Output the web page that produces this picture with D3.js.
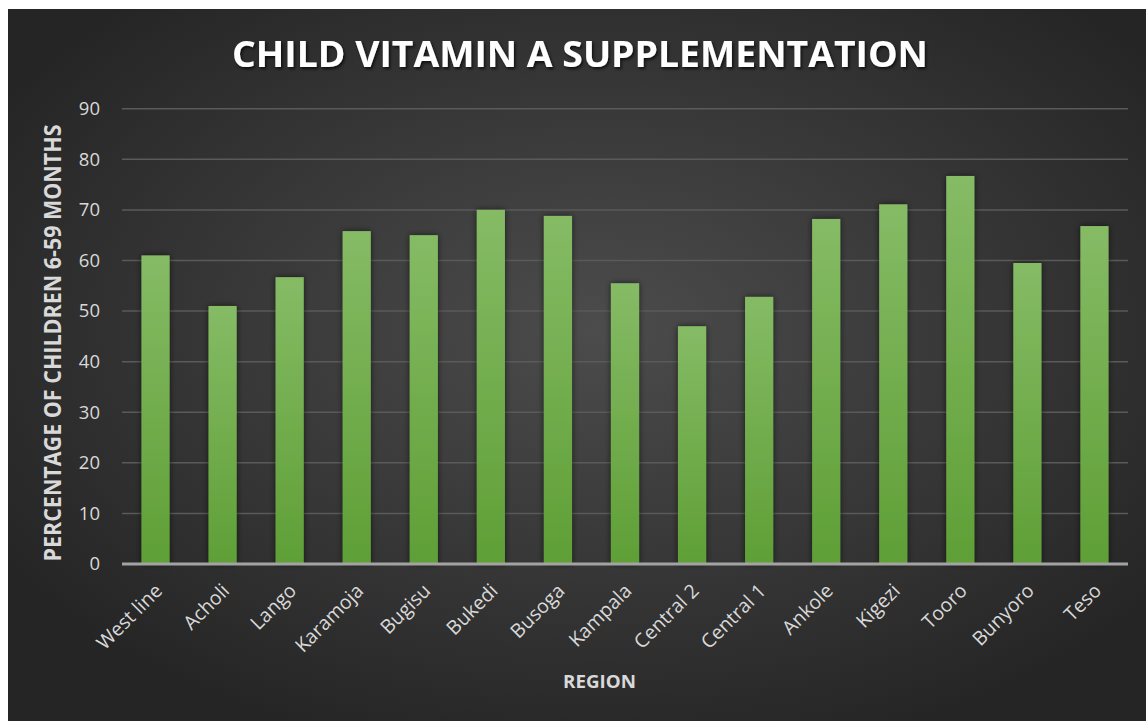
<!DOCTYPE html>
<html>
<head>
<meta charset="utf-8">
<script src="https://cdn.jsdelivr.net/npm/d3@7"></script>
<style>
html,body{margin:0;padding:0;background:#fff;}
svg{display:block;}
</style>
</head>
<body>
<svg id="chart" width="1146" height="721"></svg>
<script>
const categories = ["West line","Acholi","Lango","Karamoja","Bugisu","Bukedi","Busoga","Kampala","Central 2","Central 1","Ankole","Kigezi","Tooro","Bunyoro","Teso"];
const values = [61.0,51.0,56.7,65.8,65.0,70.0,68.8,55.5,47.0,52.8,68.2,71.1,76.7,59.5,66.8];
const yTicks = [0,10,20,30,40,50,60,70,80,90];
const titleText = "CHILD VITAMIN A SUPPLEMENTATION";
const yTitle = "PERCENTAGE OF CHILDREN 6-59 MONTHS";
const xTitle = "REGION";

const svg = d3.select("#chart");
const defs = svg.append("defs");

const bg = defs.append("radialGradient").attr("id","bg")
  .attr("cx","0.52").attr("cy","0.45").attr("r","0.62");
bg.append("stop").attr("offset","0%").attr("stop-color","#4c4c4c");
bg.append("stop").attr("offset","100%").attr("stop-color","#252525");

const bar = defs.append("linearGradient").attr("id","barg")
  .attr("x1","0").attr("y1","0").attr("x2","0").attr("y2","1");
bar.append("stop").attr("offset","0%").attr("stop-color","#85bb65");
bar.append("stop").attr("offset","100%").attr("stop-color","#5f9f36");

const sh = defs.append("filter").attr("id","shadow")
  .attr("x","-40%").attr("y","-10%").attr("width","180%").attr("height","120%");
sh.append("feGaussianBlur").attr("in","SourceAlpha").attr("stdDeviation","3").attr("result","b");
sh.append("feOffset").attr("in","b").attr("dx","0").attr("dy","0").attr("result","o");
sh.append("feComponentTransfer").attr("in","o").attr("result","o2")
  .append("feFuncA").attr("type","linear").attr("slope","0.6");
const m = sh.append("feMerge");
m.append("feMergeNode").attr("in","o2");
m.append("feMergeNode").attr("in","SourceGraphic");

const ts = defs.append("filter").attr("id","tshadow")
  .attr("x","-5%").attr("y","-30%").attr("width","110%").attr("height","160%");
ts.append("feDropShadow").attr("dx","1.5").attr("dy","2").attr("stdDeviation","1.5")
  .attr("flood-color","#000").attr("flood-opacity","0.7");

svg.append("rect").attr("x",8).attr("y",9).attr("width",1138).attr("height",712).attr("fill","url(#bg)");

const pLeft = 122, pRight = 1128, pTop = 108.7, pBottom = 564;
const x = d3.scaleBand().domain(categories).range([pLeft,pRight]).paddingInner(0.58).paddingOuter(0.29);
const y = d3.scaleLinear().domain([0,90]).range([pBottom,pTop]);

// gridlines
svg.append("g").selectAll("line").data(yTicks.filter(d=>d>0)).join("line")
  .attr("x1",pLeft).attr("x2",pRight)
  .attr("y1",d=>y(d)).attr("y2",d=>y(d))
  .attr("stroke","#5a5a5a").attr("stroke-width",1.5);

// y axis
const yAxis = svg.append("g").attr("transform",`translate(${pLeft},0)`)
  .call(d3.axisLeft(y).tickValues(yTicks).tickSize(0).tickPadding(22));
yAxis.select(".domain").remove();
yAxis.selectAll("text").attr("fill","#d9d9d9").attr("font-family","Open Sans")
  .attr("font-size","18.5px");

// bars
svg.append("g").selectAll("rect").data(values).join("rect")
  .attr("x",(d,i)=>x(categories[i]))
  .attr("width",x.bandwidth())
  .attr("y",d=>y(d))
  .attr("height",d=>pBottom-y(d))
  .attr("fill","url(#barg)")
  .attr("filter","url(#shadow)");

// x axis line
svg.append("line").attr("x1",pLeft).attr("x2",pRight).attr("y1",pBottom).attr("y2",pBottom)
  .attr("stroke","#a3a3a3").attr("stroke-width",3);

// x axis labels
const xAxis = svg.append("g").attr("transform",`translate(0,${pBottom})`)
  .call(d3.axisBottom(x).tickSize(0).tickPadding(0));
xAxis.select(".domain").remove();
xAxis.selectAll("text")
  .attr("fill","#d9d9d9").attr("font-family","Open Sans").attr("font-size","19.5px")
  .attr("text-anchor","end")
  .attr("dy","0")
  .attr("transform","translate(8,28) rotate(-45)");

// title
svg.append("text").attr("x",580).attr("y",67).attr("text-anchor","middle")
  .attr("fill","#ffffff").attr("font-family","Open Sans").attr("font-weight","bold")
  .attr("font-size","35px").attr("textLength",696).attr("lengthAdjust","spacingAndGlyphs")
  .attr("filter","url(#tshadow)")
  .text(titleText);

// y title
svg.append("text").attr("transform","translate(61,343) rotate(-90)")
  .attr("text-anchor","middle")
  .attr("fill","#d9d9d9").attr("font-family","Open Sans").attr("font-weight","bold")
  .attr("font-size","23px").attr("textLength",437).attr("lengthAdjust","spacingAndGlyphs")
  .text(yTitle);

// x title
svg.append("text").attr("x",599.5).attr("y",688).attr("text-anchor","middle")
  .attr("fill","#d9d9d9").attr("font-family","Open Sans").attr("font-weight","bold")
  .attr("font-size","18.5px").attr("textLength",73).attr("lengthAdjust","spacingAndGlyphs")
  .text(xTitle);
</script>
</body>
</html>
